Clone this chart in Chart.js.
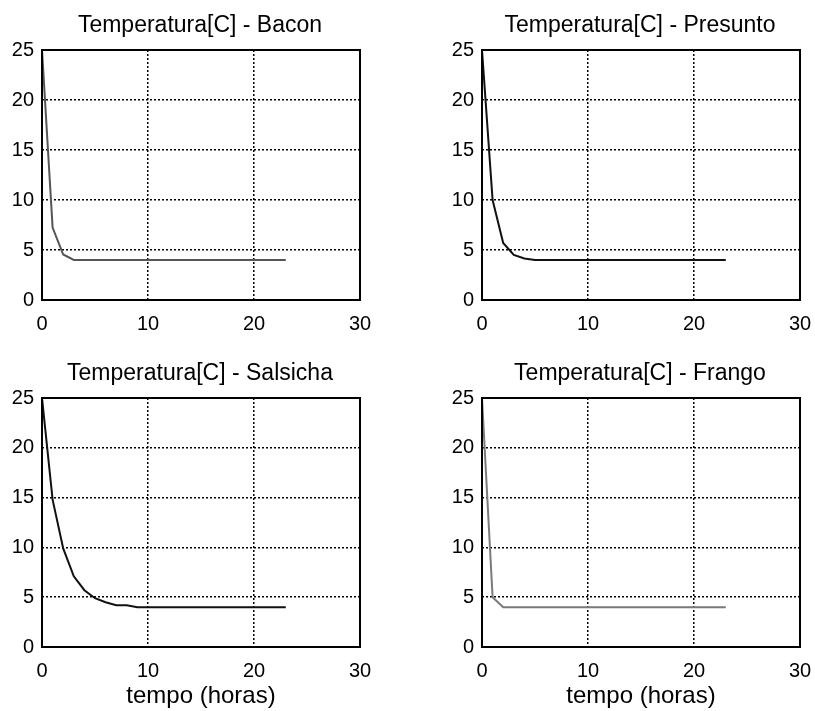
<!DOCTYPE html>
<html lang="pt">
<head>
    <meta charset="UTF-8">
    <title>Temperatura - resfriamento</title>
    <style>
        body {
            margin: 0;
            padding: 0;
            background-color: #fff;
            overflow: hidden;
            width: 815px;
            height: 711px;
            position: relative;
        }

        .plot {
            position: absolute;
        }
    </style>
</head>
<body>
    <div class="plot" style="left:0px; top:0px;"><canvas id="baconChart"></canvas></div>
    <div class="plot" style="left:440px; top:0px;"><canvas id="presuntoChart"></canvas></div>
    <div class="plot" style="left:0px; top:348px;"><canvas id="salsichaChart"></canvas></div>
    <div class="plot" style="left:440px; top:348px;"><canvas id="frangoChart"></canvas></div>

    <script src="https://cdn.jsdelivr.net/npm/chart.js"></script>
    <script>
        // Data
        const horas = [0, 1, 2, 3, 4, 5, 6, 7, 8, 9, 10, 11, 12, 13, 14, 15, 16, 17, 18, 19, 20, 21, 22, 23];
        const bacon = [25, 7.25, 4.55, 4.0, 4.0, 4.0, 4.0, 4.0, 4.0, 4.0, 4.0, 4.0, 4.0, 4.0, 4.0, 4.0, 4.0, 4.0, 4.0, 4.0, 4.0, 4.0, 4.0, 4.0];
        const presunto = [25, 10.0, 5.7, 4.5, 4.15, 4.0, 4.0, 4.0, 4.0, 4.0, 4.0, 4.0, 4.0, 4.0, 4.0, 4.0, 4.0, 4.0, 4.0, 4.0, 4.0, 4.0, 4.0, 4.0];
        const salsicha = [25, 14.8, 9.9, 7.1, 5.7, 4.9, 4.5, 4.2, 4.2, 4.0, 4.0, 4.0, 4.0, 4.0, 4.0, 4.0, 4.0, 4.0, 4.0, 4.0, 4.0, 4.0, 4.0, 4.0];
        const frango = [25, 5.0, 4.0, 4.0, 4.0, 4.0, 4.0, 4.0, 4.0, 4.0, 4.0, 4.0, 4.0, 4.0, 4.0, 4.0, 4.0, 4.0, 4.0, 4.0, 4.0, 4.0, 4.0, 4.0];
        const xTicks = [0, 10, 20, 30];
        const yTicks = [0, 5, 10, 15, 20, 25];

        const FONT = "'Liberation Sans', Arial, sans-serif";

        // black box around the plot area
        const frameBox = {
            id: 'frameBox',
            afterDraw(chart) {
                const a = chart.chartArea;
                const ctx = chart.ctx;
                ctx.save();
                ctx.strokeStyle = '#000';
                ctx.lineWidth = 2;
                ctx.strokeRect(a.left, a.top, a.right - a.left, a.bottom - a.top);
                ctx.restore();
            }
        };

        function makeChart(id, title, values, color, showXTitle) {
            const canvas = document.getElementById(id);
            canvas.width = 400;
            canvas.height = showXTitle ? 363 : 340;
            const points = horas.map((h, i) => ({ x: h, y: values[i] }));
            return new Chart(canvas, {
                type: 'line',
                data: {
                    datasets: [{
                        data: points,
                        borderColor: color,
                        borderWidth: 2,
                        pointRadius: 0,
                        tension: 0,
                        fill: false
                    }]
                },
                options: {
                    responsive: false,
                    animation: false,
                    layout: { padding: 0 },
                    plugins: {
                        legend: { display: false },
                        tooltip: { enabled: false },
                        title: {
                            display: true,
                            text: title,
                            color: '#000',
                            font: { family: FONT, size: 23, weight: 'normal' },
                            padding: { top: 11.5, bottom: 10.9 }
                        }
                    },
                    scales: {
                        x: {
                            type: 'linear',
                            min: xTicks[0],
                            max: xTicks[xTicks.length - 1],
                            afterBuildTicks: (s) => { s.ticks = xTicks.map(v => ({ value: v })); },
                            afterFit: (s) => { s.height = showXTitle ? 64 : 40; },
                            grid: {
                                color: '#000',
                                lineWidth: 1.5,
                                drawTicks: false
                            },
                            border: { display: false, dash: [2, 2] },
                            ticks: {
                                color: '#000',
                                padding: 12,
                                maxRotation: 0,
                                font: { family: FONT, size: 20 }
                            },
                            title: {
                                display: showXTitle,
                                text: 'tempo (horas)',
                                color: '#000',
                                font: { family: FONT, size: 24 },
                                padding: { top: 0, bottom: 0 }
                            }
                        },
                        y: {
                            type: 'linear',
                            min: yTicks[0],
                            max: yTicks[yTicks.length - 1],
                            afterBuildTicks: (s) => { s.ticks = yTicks.map(v => ({ value: v })); },
                            afterFit: (s) => { s.width = 42; },
                            grid: {
                                color: '#000',
                                lineWidth: 1.5,
                                drawTicks: false
                            },
                            border: { display: false, dash: [2, 2] },
                            ticks: {
                                color: '#000',
                                padding: 8,
                                font: { family: FONT, size: 20 }
                            }
                        },
                        // empty right-hand axis, only keeps space to the right of the box
                        yRight: {
                            type: 'linear',
                            position: 'right',
                            min: yTicks[0],
                            max: yTicks[yTicks.length - 1],
                            afterFit: (s) => { s.width = 40; },
                            grid: { display: false, drawTicks: false },
                            border: { display: false },
                            ticks: { display: false }
                        }
                    }
                },
                plugins: [frameBox]
            });
        }

        makeChart('baconChart', 'Temperatura[C] - Bacon', bacon, '#555555', false);
        makeChart('presuntoChart', 'Temperatura[C] - Presunto', presunto, '#111111', false);
        makeChart('salsichaChart', 'Temperatura[C] - Salsicha', salsicha, '#111111', true);
        makeChart('frangoChart', 'Temperatura[C] - Frango', frango, '#7a7a7a', true);
    </script>
</body>
</html>
